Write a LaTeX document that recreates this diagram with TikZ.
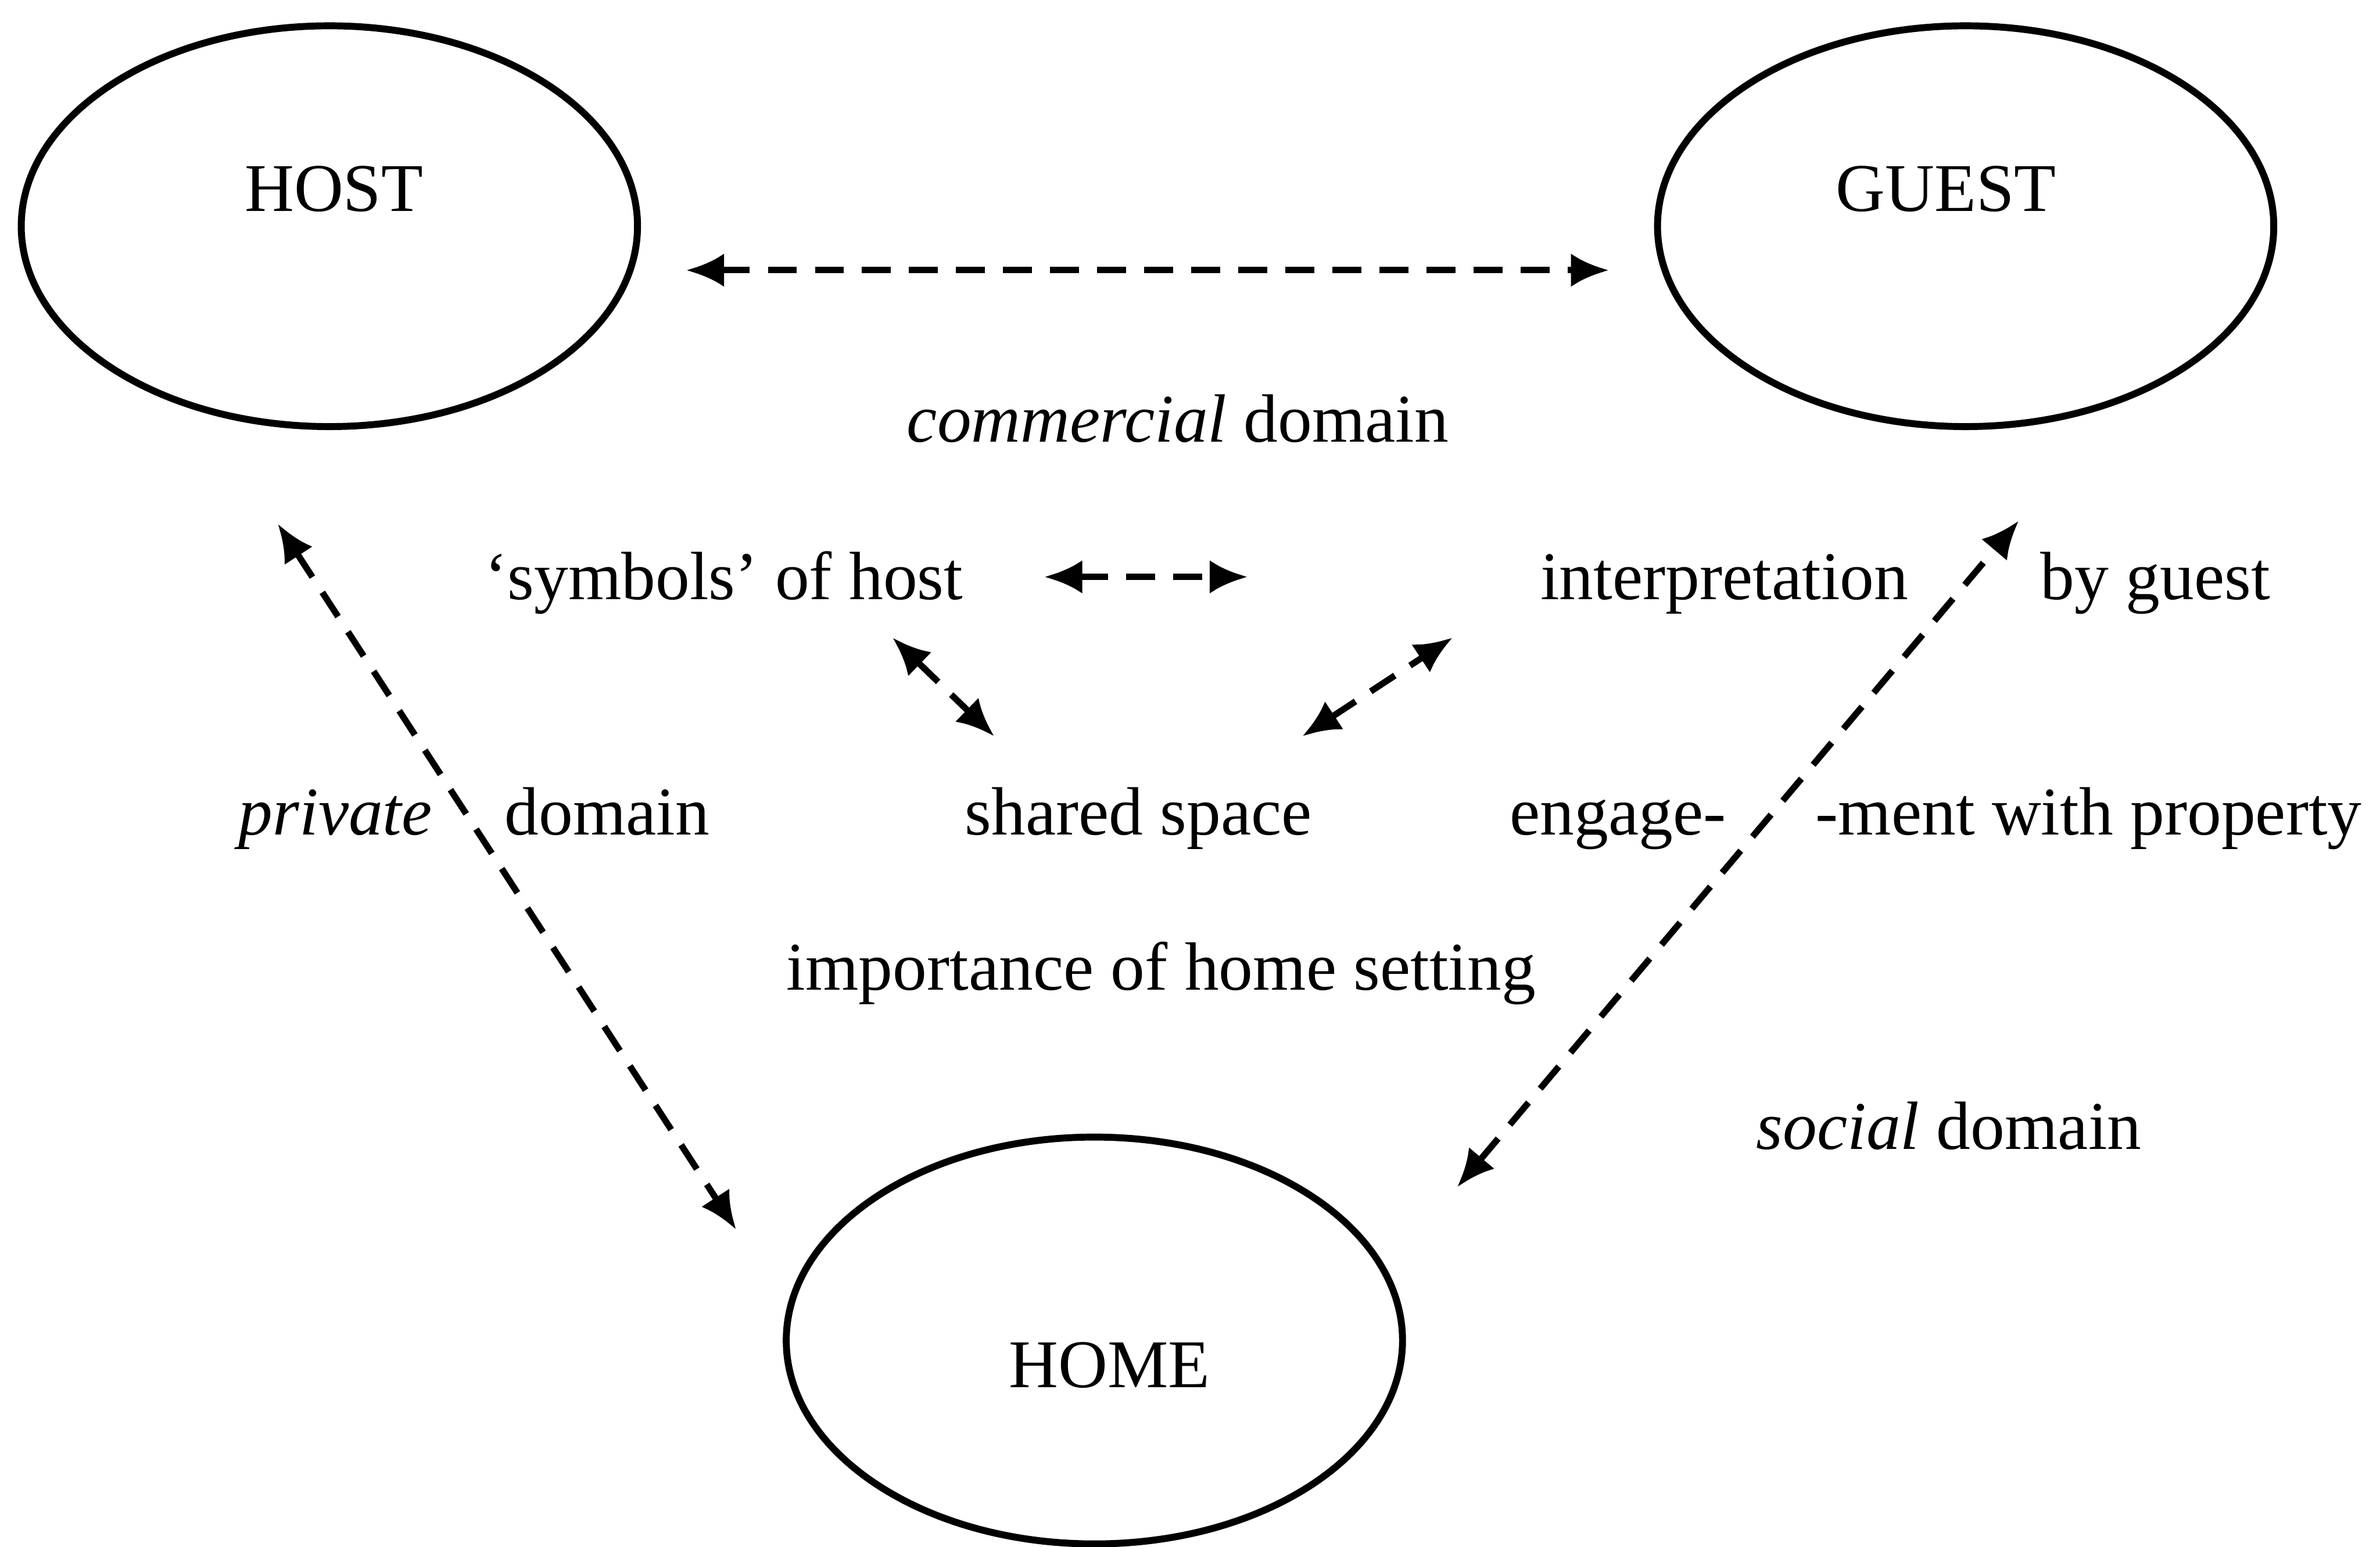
\documentclass[tikz,border=0pt]{standalone}
\usepackage{fontspec}
\setmainfont{Liberation Serif}
\usetikzlibrary{arrows.meta,shapes.geometric}
\begin{document}
\begin{tikzpicture}[
  x=1cm, y=1cm,
  every node/.style={font=\fontsize{12.8}{15}\selectfont, inner sep=0pt},
  bubble/.style={draw, line width=1.3pt, ellipse, minimum width=4.06cm, minimum height=2.64cm},
  txt/.style={anchor=base},
  link/.style={line width=1.2pt, dash pattern=on 0.19cm off 0.12cm,
    {Latex[length=0.25cm,width=0.22cm]}-{Latex[length=0.25cm,width=0.22cm]}}
]
\useasboundingbox (0,0) rectangle (15.68,-10.19);

% the three actors
\node[bubble] (host)  at (2.17,-1.49) {};
\node[bubble] (guest) at (12.95,-1.49) {};
\node[bubble, minimum height=2.68cm] (home) at (7.21,-8.83) {};

\node[txt] (hostlbl)  at (2.20,-1.39) {HOST};
\node[txt] (guestlbl) at (12.82,-1.39) {GUEST};
\node[txt] (homelbl)  at (7.31,-9.14) {HOME};

% texts between the actors
\node[txt] (comm)   at (7.76,-2.91) {\textit{commercial} domain};
\node[txt] (symb)   at (4.77,-3.95) {`symbols' of host};
\node[txt] (interp) at (11.36,-3.95) {interpretation};
\node[txt] (byg)    at (14.20,-3.95) {by guest};
\node[txt] (priv)   at (2.21,-5.50) {\textit{private}};
\node[txt] (pdom)   at (4.00,-5.50) {domain};
\node[txt] (shared) at (7.50,-5.50) {shared space};
\node[txt] (eng)    at (10.66,-5.50) {engage-};
\node[txt] (ment)   at (13.76,-5.50) {-ment with property};
\node[txt] (imp)    at (7.65,-6.52) {importance of home setting};
\node[txt] (soc)    at (12.84,-7.57) {\textit{social} domain};

% arrow ends
\coordinate (hgL) at (4.52,-1.78);
\coordinate (hgR) at (10.60,-1.78);
\coordinate (siL) at (6.88,-3.80);
\coordinate (siR) at (8.22,-3.80);
\coordinate (ssA) at (5.88,-4.20);
\coordinate (ssB) at (6.55,-4.85);
\coordinate (isA) at (8.58,-4.85);
\coordinate (isB) at (9.57,-4.20);
\coordinate (hhA) at (1.83,-3.45);
\coordinate (hhB) at (4.85,-8.10);
\coordinate (ghA) at (9.60,-7.82);
\coordinate (ghB) at (13.30,-3.43);

\draw[link] (hgL) -- (hgR);
\draw[link] (siL) -- (siR);
\draw[link] (ssA) -- (ssB);
\draw[link] (isA) -- (isB);
\draw[link] (hhA) -- (hhB);
\draw[link] (ghA) -- (ghB);
\end{tikzpicture}
\end{document}
